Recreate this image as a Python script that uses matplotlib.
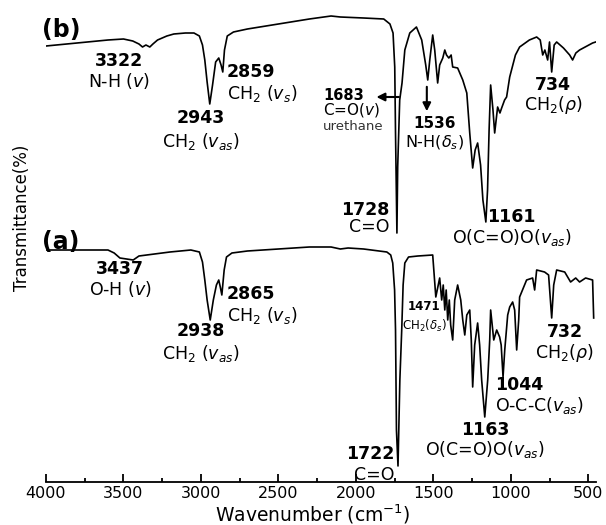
import matplotlib
matplotlib.use('Agg')
import matplotlib.pyplot as plt
from matplotlib.ticker import MultipleLocator

plt.rcParams['font.family'] = 'DejaVu Sans'
plt.rcParams['mathtext.fontset'] = 'dejavusans'

# FTIR spectra (wavenumber in cm-1, transmittance in a.u.)
wn_b = [4000, 3800, 3600, 3500, 3440, 3400, 3377, 3355, 3330, 3310,
        3280, 3220, 3175, 3100, 3045, 3010, 2990, 2975, 2960, 2943,
        2925, 2905, 2885, 2870, 2859, 2848, 2830, 2790, 2700, 2500,
        2300, 2160, 2100, 1950, 1820, 1780, 1760, 1749, 1744, 1735,
        1730, 1717, 1702, 1684, 1652, 1609, 1575, 1549, 1536, 1523,
        1504, 1491, 1472, 1459, 1439, 1426, 1415, 1400, 1385, 1375,
        1343, 1310, 1284, 1265, 1246, 1230, 1214, 1195, 1180, 1161,
        1150, 1140, 1130, 1115, 1104, 1085, 1070, 1059, 1040, 1027,
        1007, 970, 943, 880, 833, 810, 794, 780, 762, 750,
        736, 720, 704, 660, 620, 601, 580, 556, 520, 472, 452]
T_b = [434, 437, 440, 441, 439, 436, 433, 435, 433, 436,
       440, 444, 446, 447, 447, 444, 435, 420, 398, 376,
       395, 418, 422, 415, 408, 430, 444, 448, 451, 456,
       461, 464, 463, 462, 461, 456, 447, 413, 347, 247,
       313, 380, 397, 430, 447, 453, 440, 415, 400, 420,
       445, 430, 397, 415, 422, 430, 425, 422, 425, 413,
       412, 400, 387, 347, 312, 330, 337, 315, 280, 258,
       290, 350, 395, 370, 347, 373, 367, 372, 380, 383,
       403, 425, 433, 440, 443, 440, 425, 430, 420, 438,
       408, 435, 438, 432, 425, 420, 427, 430, 433, 437, 438]

wn_a = [4000, 3800, 3600, 3560, 3523, 3480, 3437, 3400, 3300, 3200,
        3065, 3010, 2990, 2975, 2960, 2940, 2920, 2900, 2885, 2875,
        2865, 2850, 2835, 2800, 2700, 2500, 2300, 2160, 2100, 2050,
        1950, 1800, 1775, 1762, 1750, 1744, 1738, 1728, 1716, 1704,
        1695, 1684, 1660, 1600, 1504, 1484, 1459, 1446, 1436, 1426,
        1417, 1407, 1397, 1388, 1375, 1362, 1343, 1323, 1310, 1297,
        1284, 1265, 1255, 1246, 1233, 1214, 1201, 1188, 1168, 1149,
        1136, 1130, 1110, 1091, 1072, 1062, 1050, 1039, 1020, 1007,
        988, 975, 962, 949, 943, 898, 859, 846, 833, 782,
        756, 736, 723, 704, 652, 614, 581, 556, 517, 472, 465]
T_a = [230, 230, 230, 227, 222, 221, 220, 224, 226, 228,
       230, 228, 218, 200, 180, 160, 180, 195, 200, 193,
       185, 210, 223, 227, 229, 231, 233, 233, 231, 232,
       231, 228, 225, 217, 190, 150, 50, 14, 100, 150,
       195, 217, 223, 224, 225, 183, 202, 180, 195, 170,
       190, 160, 180, 155, 140, 180, 195, 180, 160, 145,
       165, 170, 140, 93, 135, 157, 135, 100, 63, 100,
       140, 170, 140, 150, 143, 135, 103, 130, 165, 173,
       178, 170, 130, 160, 183, 200, 202, 190, 210, 208,
       205, 162, 195, 210, 208, 198, 202, 198, 202, 200, 162]

fig = plt.figure(figsize=(6.06, 5.25), dpi=100)
ax = fig.add_axes([46/606, 43/525, 550/606, 477/525])

ax.plot(wn_b, T_b, color='black', lw=1.2)
ax.plot(wn_a, T_a, color='black', lw=1.2)

ax.set_xlim(4000, 450)
ax.set_ylim(-2, 475)
ax.xaxis.set_major_locator(MultipleLocator(500))
ax.xaxis.set_minor_locator(MultipleLocator(250))
ax.tick_params(axis='x', which='major', direction='in', length=6, width=1.3,
               labelsize=11.5, pad=3)
ax.tick_params(axis='x', which='minor', direction='in', length=3, width=1.3)
ax.set_yticks([])
for s in ['left', 'right', 'top']:
    ax.spines[s].set_visible(False)
ax.spines['bottom'].set_linewidth(1.3)

fig.text(313/606, 1 - 521/525, 'Wavenumber (cm$^{-1}$)', fontsize=13.5,
         ha='center', va='baseline')
fig.text(22/606, 1 - 218/525, 'Transmittance(%)', fontsize=12,
         rotation=90, ha='center', va='center')

bsz = 12.5
nsz = 12.5

def peak(x, y, num, lab, ha='center', size=bsz, lsize=nsz, dy=20):
    ax.text(x, y, num, fontsize=size, fontweight='bold', ha=ha, va='center')
    ax.text(x, y - dy, lab, fontsize=lsize, ha=ha, va='center')

# panel (b)
ax.text(3903, 450, '(b)', fontsize=17, fontweight='bold', ha='center', va='center')
peak(3526, 419, '3322', 'N-H ($v$)')
peak(3003, 362, '2943', 'CH$_2$ ($v_{as}$)', dy=23)
peak(2833, 408, '2859', 'CH$_2$ ($v_s$)', ha='left', dy=21)
peak(2213, 385, '1683', 'C=O($v$)', ha='left', size=10.5, lsize=11, dy=15)
ax.text(2213, 353, 'urethane', fontsize=9.5, color='#333333', ha='left', va='center')
ax.annotate('', xy=(1885, 383), xytext=(1704, 383),
            arrowprops=dict(arrowstyle='-|>', color='black', lw=1.5, mutation_scale=12))
peak(1494, 356, '1536', 'N-H($\\delta_s$)', size=11, lsize=11.5, dy=19)
ax.annotate('', xy=(1542, 366), xytext=(1542, 396),
            arrowprops=dict(arrowstyle='-|>', color='black', lw=1.5, mutation_scale=12))
peak(1781, 270, '1728', 'C=O', ha='right', dy=17)
peak(994, 263, '1161', 'O(C=O)O($v_{as}$)', dy=21)
peak(728, 395, '734', 'CH$_2$($\\rho$)', dy=20)

# panel (a)
ax.text(3903, 238, '(a)', fontsize=17, fontweight='bold', ha='center', va='center')
peak(3522, 211, '3437', 'O-H ($v$)')
peak(3003, 149, '2938', 'CH$_2$ ($v_{as}$)', dy=22)
peak(2833, 186, '2865', 'CH$_2$ ($v_s$)', ha='left', dy=22)
peak(1560, 174, '1471', 'CH$_2$($\\delta_s$)', size=8.5, lsize=8.5, dy=20)
peak(1749, 26, '1722', 'C=O', ha='right', dy=21)
peak(1168, 50, '1163', 'O(C=O)O($v_{as}$)', dy=20)
peak(1104, 95, '1044', 'O-C-C($v_{as}$)', ha='left', dy=21)
peak(652, 148, '732', 'CH$_2$($\\rho$)', dy=21)

fig.savefig('out.png', dpi=100)
